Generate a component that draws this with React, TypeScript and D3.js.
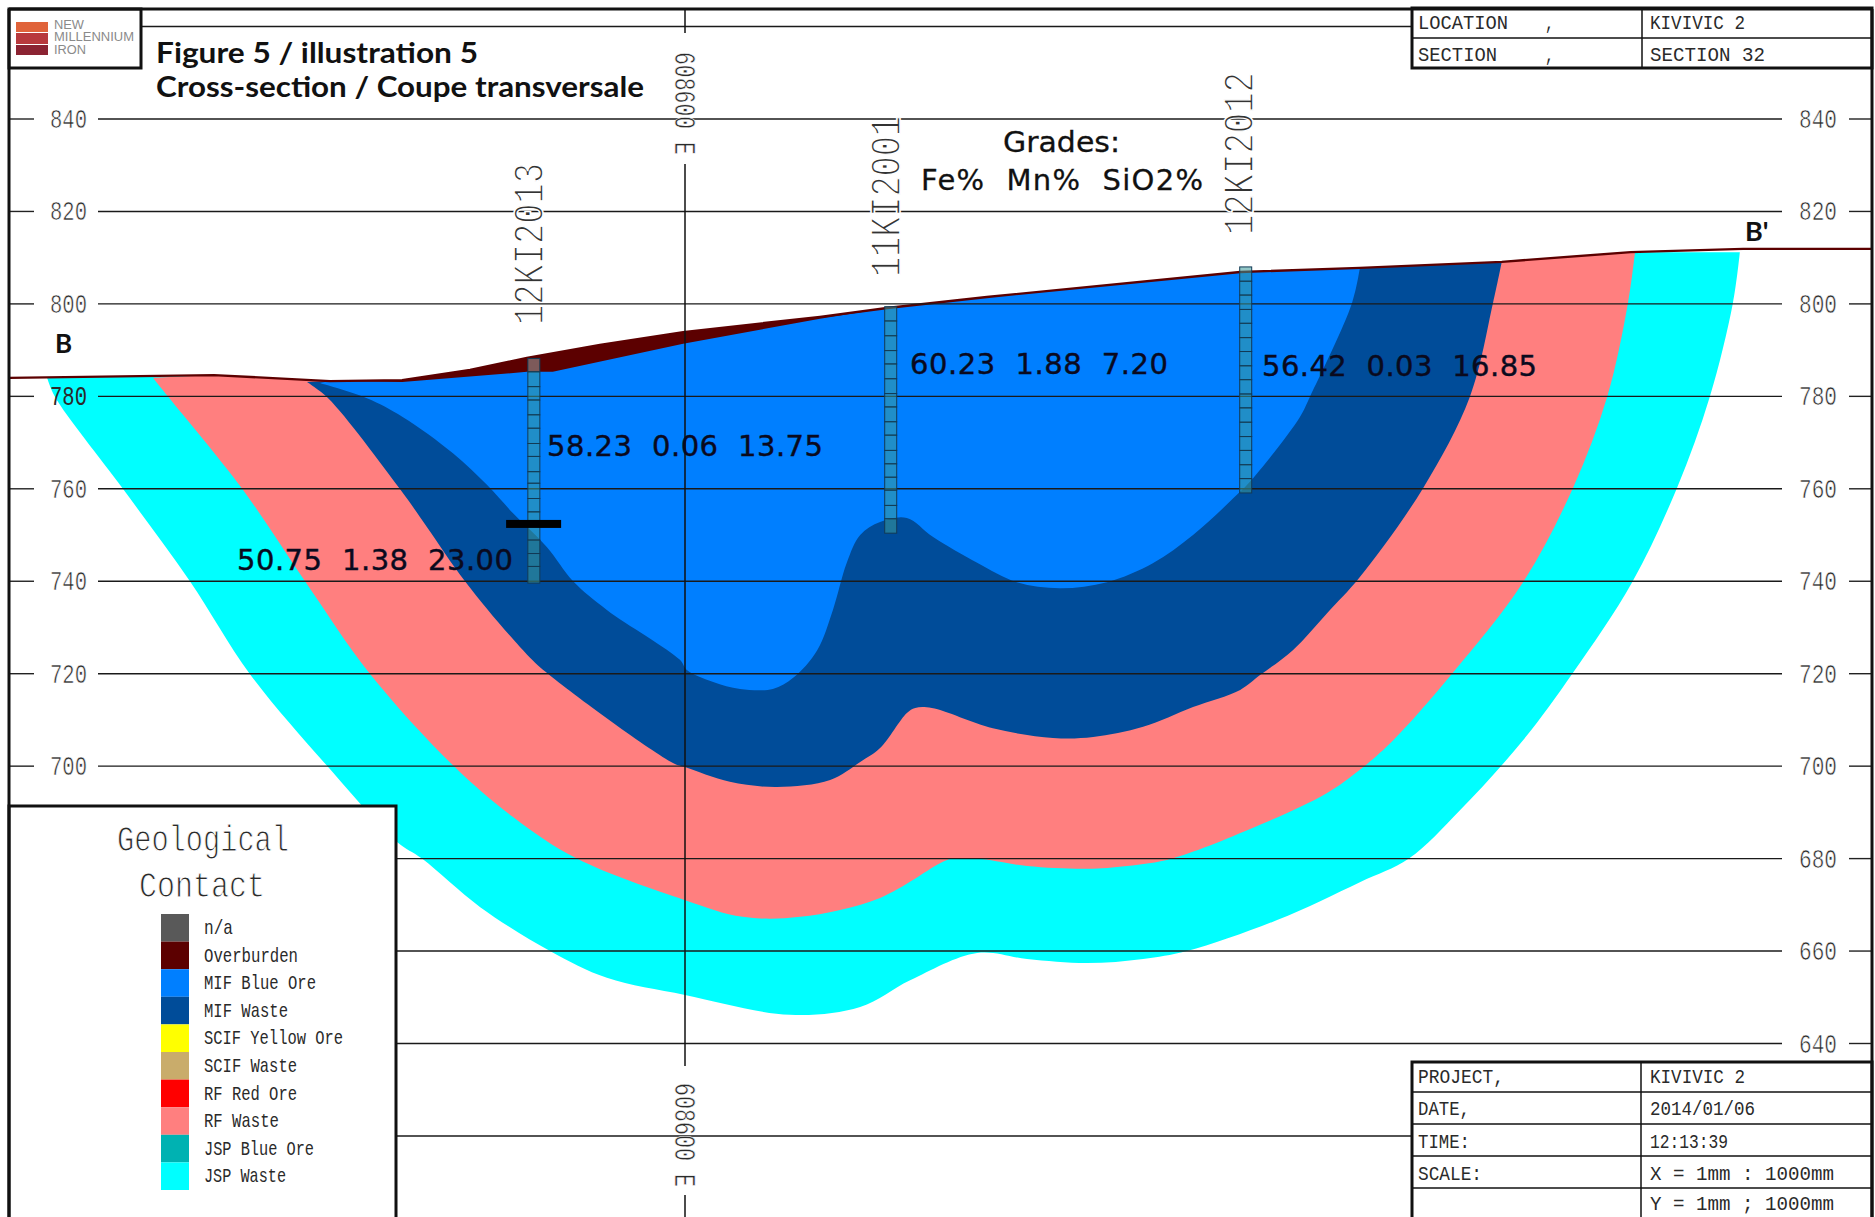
import React from "react";
import * as d3 from "d3";

type P = [number, number];
// Section coordinates: [metres east of 608600 E, elevation in metres]
const surface: P[] = [[-146.2,784],[-101.9,784.6],[-76.8,783.3],[-61.2,783.5],[-46.5,785.7],[-34.2,788.3],[-18.4,791.1],[-0.4,793.9],[29.2,797.2],[43.7,799.1],[65.3,801.5],[120.1,806.9],[146,807.8],[176.7,809.1],[204.6,811.2],[228.9,811.9],[256.8,811.9]];
const overburdenBase: P[] = [[-76.8,783.3],[-61.2,783.1],[-34.2,785.3],[-28.6,785.3],[-0.4,791.4],[29.2,796.8],[43.7,799.1]];
const jspBase: P[] = [[-138,784],[-136.3,779.9],[-121.6,760],[-107.1,740],[-94.1,719.9],[-77.2,699.8],[-62.3,683.6],[-56.9,680],[-44.3,669.5],[-29.2,660],[-16.9,654.2],[0,650.5],[22.7,646.2],[37.9,647.9],[48.7,653.7],[63.2,659.6],[74,658.3],[87,657.4],[99.1,658.3],[108.6,660],[128.1,666.7],[146,674.9],[156.6,680],[167.7,690.5],[181.3,705.6],[192.1,720.2],[204.9,739.8],[214.6,760.2],[221.7,779.9],[226.7,800.2],[228.2,811.2]];
const rfBase: P[] = [[-115.1,784],[-111.8,779.9],[-95.8,760],[-82.2,740],[-68.1,719.9],[-49.8,699.8],[-37.2,689],[-23.4,680],[0,671],[12.5,667.4],[24.9,667.4],[42.2,671.5],[55.8,679.3],[58,680],[63.2,680],[74,678.4],[87,677.8],[95.6,678.4],[105.6,680.1],[124.4,687.3],[138.9,694.2],[146,699.2],[153.2,705.6],[166.1,720.2],[181.3,739.8],[192.1,760.2],[199.5,779.9],[204,800.2],[205.5,811]];
const mifWasteBase: P[] = [[-81.8,783.1],[-77.2,779.6],[-61.7,760],[-55.8,751.7],[-47.6,740],[-35.7,725.8],[-29.9,720.2],[-2.6,700.7],[0,699.8],[9.7,696.6],[19.9,695.5],[31.4,697],[37.9,700.9],[42.2,703.9],[48,711.5],[49.8,712.6],[53.4,712.6],[66.6,708.2],[79.6,706.1],[88.3,706.3],[99.1,708.5],[109.9,712.8],[120.1,716.5],[124.4,719.7],[131.5,725.1],[138.9,733.1],[146,740.9],[159.7,760.2],[169.8,779.9],[174.8,800.2],[176.7,809.1]];
const mifOreBase: P[] = [[-79,782.9],[-68.8,779.6],[-61,775.5],[-50.2,767.7],[-42.8,760.8],[-37.2,754.7],[-29.9,747.4],[-24.2,740],[-16.9,733.8],[-1.1,723],[0.4,720.8],[6.1,718.2],[11.9,716.7],[19,716.7],[23.4,719.1],[28.6,725.1],[32,733.8],[35,744],[37.9,750],[42.2,752.8],[48,753.7],[53.6,749.6],[63.2,744],[71.8,739.8],[81.1,738.5],[91.3,739.8],[101.2,743.9],[109.9,750],[119.4,758.7],[122.9,762.3],[133,775.5],[135.2,779.9],[144.3,800.2],[146,807.8]];

const elevationTicks = [840,820,800,780,760,740,720,700,680,660,640];
const unlabelledLevels = [860,620];

const holeNames = ["12KI2013","11KI2001","12KI2012"];
const holeEast = [-32.7,44.5,121.3];
const hole1Marks = [788.2,785.3,782.1,779.2,776,773.1,769.8,767,763.7,761.2,757.9,755,752.2,748.9,746,743.2,739.6];
const hole2Marks = [799.4,796.3,793.1,789.9,787,783.8,780.6,777.7,774.5,771.6,768.3,765.4,762.5,759.7,756.4,753.5,750.4];
const hole3Marks = [808,804.9,801.9,798.8,795.8,792.7,789.7,786.6,783.6,780.5,777.5,774.4,771.3,768.3,765.2,762.2,759.1];
const holeMarks = [hole1Marks,hole2Marks,hole3Marks];
const contactBar: [number, number, number] = [-38.7,-26.8,752.4];

const gradeLabels = ["58.23  0.06  13.75","60.23  1.88  7.20","56.42  0.03  16.85","50.75  1.38  23.00"];

const legendNames = ["n/a","Overburden","MIF Blue Ore","MIF Waste","SCIF Yellow Ore","SCIF Waste","RF Red Ore","RF Waste","JSP Blue Ore","JSP Waste"];
const legendColors = ["#595959","#5c0000","#007fff","#004c99","#ffff00","#c9ac6b","#ff0000","#ff7f7f","#00b2b2","#00ffff"];
const legendWidths = [29,94,112,84,139,93,93,75,110,82];

const topLabels = ["LOCATION","SECTION"];
const topValues = ["KIVIVIC 2","SECTION 32"];
const projLabels = ["PROJECT,","DATE,","TIME:","SCALE:"];
const projValues = ["KIVIVIC 2","2014/01/06","12:13:39","X = 1mm : 1000mm","Y = 1mm ; 1000mm"];

const x = d3.scaleLinear().domain([0,100]).range([685,685+462.25]);
const y = d3.scaleLinear().domain([840,640]).range([119,1043.5]);
const line = d3.line<P>().x(d=>x(d[0])).y(d=>y(d[1]));
const smooth = d3.line<P>().x(d=>x(d[0])).y(d=>y(d[1])).curve(d3.curveCatmullRom.alpha(0.5));

function layer(base: P[]): string {
  const a = base[0][0], b = base[base.length-1][0];
  const top = surface.filter(p=>p[0]>a && p[0]<b).reverse();
  const closing = (line(top) as string).replace(/^M/, "L");
  return (smooth(base) as string)+closing+"Z";
}

const MONO = "'Liberation Mono', monospace";
const SANS = "'DejaVu Sans', sans-serif";
const LATO = "Lato, sans-serif";

function Mono(p:{x:number;y:number;size:number;w:number;t:string;fill?:string;rot?:number;thin?:number;}) {
  const tr = p.rot ? `rotate(${p.rot} ${p.x} ${p.y})` : undefined;
  return <text x={p.x} y={p.y} transform={tr} fontFamily={MONO} fontSize={p.size} fill={p.fill??"#2a2a2a"}
    stroke={p.thin?"#fff":undefined} strokeWidth={p.thin}
    textLength={p.w} lengthAdjust="spacingAndGlyphs" style={{whiteSpace:"pre"}}>{p.t}</text>;
}

export default function App() {
  const gradePos = [[547,456,276],[910,374,258],[1262,376,275],[237,570,276]];
  const holeLabelPos = [[543,325,162],[900,277,161],[1253,235,163]];
  return (
    <svg width={1875} height={1217} viewBox="0 0 1875 1217" style={{position:"absolute",left:0,top:0,display:"block",background:"#fff"}}>
      <rect width={1875} height={1217} fill="#fff"/>
      <path d={layer(jspBase)} fill="#00ffff"/>
      <path d={layer(rfBase)} fill="#ff7f7f"/>
      <path d={layer(mifWasteBase)} fill="#004c99"/>
      <path d={layer(mifOreBase)} fill="#007fff"/>
      <path d={(line([...overburdenBase,...surface.filter(p=>p[0]>-76.8&&p[0]<43.7).reverse()]) as string)+"Z"} fill="#5c0000"/>
      <path d={line(surface) as string} fill="none" stroke="#5c0000" strokeWidth={2.4}/>

      {elevationTicks.map(v=>{
        const yy=y(v); const left = v>=700 ? 98 : 396;
        return <g key={v}>
          {v>=700 && <line x1={10} x2={34} y1={yy} y2={yy} stroke="#222" strokeWidth={1.4}/>}
          <line x1={left} x2={1782} y1={yy} y2={yy} stroke="#1a1a1a" strokeWidth={1.4}/>
          <line x1={1849} x2={1872} y1={yy} y2={yy} stroke="#222" strokeWidth={1.4}/>
          {v>=700 && <Mono x={50} y={yy+9} size={27} w={37} t={String(v)} thin={v===780?undefined:0.6}/>}
          <Mono x={1799} y={yy+9} size={27} w={38} t={String(v)} thin={0.6}/>
        </g>;
      })}
      <line x1={141} x2={1412} y1={y(unlabelledLevels[0])} y2={y(unlabelledLevels[0])} stroke="#1a1a1a" strokeWidth={1.4}/>
      <line x1={396} x2={1412} y1={y(unlabelledLevels[1])} y2={y(unlabelledLevels[1])} stroke="#1a1a1a" strokeWidth={1.4}/>

      <line x1={x(0)} x2={x(0)} y1={9} y2={33} stroke="#111" strokeWidth={1.5}/>
      <line x1={x(0)} x2={x(0)} y1={164} y2={1066} stroke="#111" strokeWidth={1.5}/>
      <line x1={x(0)} x2={x(0)} y1={1195} y2={1217} stroke="#111" strokeWidth={1.5}/>
      <Mono x={675} y={52} size={30} w={103} t="608600 E" rot={90} thin={0.6}/>
      <Mono x={675} y={1083} size={30} w={104} t="608600 E" rot={90} thin={0.6}/>

      {holeNames.map((n,i)=>{
        const cx=x(holeEast[i]); const m=holeMarks[i];
        return <g key={n}>
          {d3.pairs(m).map(([a,b],j)=>(
            <rect key={j} x={cx-6} width={12} y={y(a)} height={y(b)-y(a)}
              fill={i===0&&j===0?"#7d5a5a":"#3a9a9a"} fillOpacity={i===0&&j===0?1:0.55}
              stroke="#123a55" strokeWidth={1}/>
          ))}
          <Mono x={holeLabelPos[i][0]} y={holeLabelPos[i][1]} size={45} w={holeLabelPos[i][2]} t={n} rot={-90} fill="#333" thin={1.6}/>
        </g>;
      })}
      <rect x={x(contactBar[0])} width={x(contactBar[1])-x(contactBar[0])} y={y(contactBar[2])-4} height={8} fill="#000"/>

      {gradeLabels.map((t,i)=>(
        <text key={i} x={gradePos[i][0]} y={gradePos[i][1]} fontFamily={SANS} fontSize={29} fill="#0a0a1e" stroke="#0a0a1e" strokeWidth={0.4}
          textLength={gradePos[i][2]} lengthAdjust="spacing" style={{whiteSpace:"pre"}}>{t}</text>
      ))}
      <text x={1003} y={152} fontFamily={SANS} fontSize={29} fill="#111" stroke="#111" strokeWidth={0.3} textLength={117} lengthAdjust="spacingAndGlyphs">Grades:</text>
      <text x={921} y={190} fontFamily={SANS} fontSize={29} fill="#111" stroke="#111" strokeWidth={0.3} textLength={282} lengthAdjust="spacing" style={{whiteSpace:"pre"}}>Fe%  Mn%  SiO2%</text>

      <text x={156} y={63} fontFamily={LATO} fontWeight={700} fontSize={29} fill="#111" textLength={322} lengthAdjust="spacingAndGlyphs">Figure 5 / illustration 5</text>
      <text x={156} y={97} fontFamily={LATO} fontWeight={700} fontSize={29} fill="#111" textLength={488} lengthAdjust="spacingAndGlyphs">Cross-section / Coupe transversale</text>
      <text x={55} y={353} fontFamily={LATO} fontWeight={700} fontSize={26} fill="#111">B</text>
      <text x={1745} y={241} fontFamily={LATO} fontWeight={700} fontSize={27} fill="#111">B'</text>

      <rect x={9} y={9} width={132} height={59} fill="#fff" stroke="#111" strokeWidth={3}/>
      <rect x={16} y={22} width={32} height={10} fill="#e0633a"/>
      <rect x={16} y={33} width={32} height={11} fill="#b8393d"/>
      <rect x={16} y={45} width={32} height={10} fill="#8b2332"/>
      {["NEW","MILLENNIUM","IRON"].map((t,i)=>(
        <text key={t} x={54} y={[29,41,54][i]} fontFamily="'Liberation Sans', sans-serif" fontSize={12} fill="#8a8a8a"
          textLength={[30,80,32][i]} lengthAdjust="spacingAndGlyphs">{t}</text>
      ))}

      <rect x={9} y={806} width={387} height={420} fill="#fff" stroke="#111" strokeWidth={3}/>
      <Mono x={117} y={851} size={36} w={172} t="Geological" thin={1}/>
      <Mono x={139} y={897} size={36} w={126} t="Contact" thin={1}/>
      {legendNames.map((n,i)=>{
        const yy=914+i*27.6;
        return <g key={n}>
          <rect x={161} y={yy} width={28} height={27.6} fill={legendColors[i]}/>
          <Mono x={204} y={yy+20} size={21} w={legendWidths[i]} t={n}/>
        </g>;
      })}

      <g fill="#fff" stroke="#111">
        <rect x={1412} y={8} width={460} height={60} strokeWidth={3}/>
        <rect x={1412} y={1062} width={460} height={170} strokeWidth={3}/>
      </g>
      <g stroke="#111" strokeWidth={1.5}>
        <line x1={1412} x2={1872} y1={38} y2={38}/>
        <line x1={1642} x2={1642} y1={8} y2={68}/>
        <line x1={1641} x2={1641} y1={1062} y2={1217}/>
        {[1092,1124,1156,1188].map(v=><line key={v} x1={1412} x2={1872} y1={v} y2={v}/>)}
      </g>
      {topLabels.map((t,i)=>{
        const yy=[29,61][i];
        return <g key={t}>
          <Mono x={1418} y={yy} size={21} w={[90,79][i]} t={t}/>
          <Mono x={1545} y={yy} size={21} w={9} t=","/>
          <Mono x={1650} y={yy} size={21} w={[95,115][i]} t={topValues[i]}/>
        </g>;
      })}
      {projLabels.map((t,i)=>(
        <Mono key={t} x={1418} y={[1083,1115,1148,1180][i]} size={21} w={[86,52,52,64][i]} t={t}/>
      ))}
      {projValues.map((t,i)=>(
        <Mono key={t} x={1650} y={[1083,1115,1148,1180,1210][i]} size={21} w={[95,105,78,184,184][i]} t={t}/>
      ))}

      <g stroke="#111" strokeWidth={3} fill="none">
        <line x1={9} x2={1872} y1={9} y2={9}/>
        <line x1={9} x2={9} y1={9} y2={1217}/>
        <line x1={1872} x2={1872} y1={9} y2={1217}/>
      </g>
    </svg>
  );
}
